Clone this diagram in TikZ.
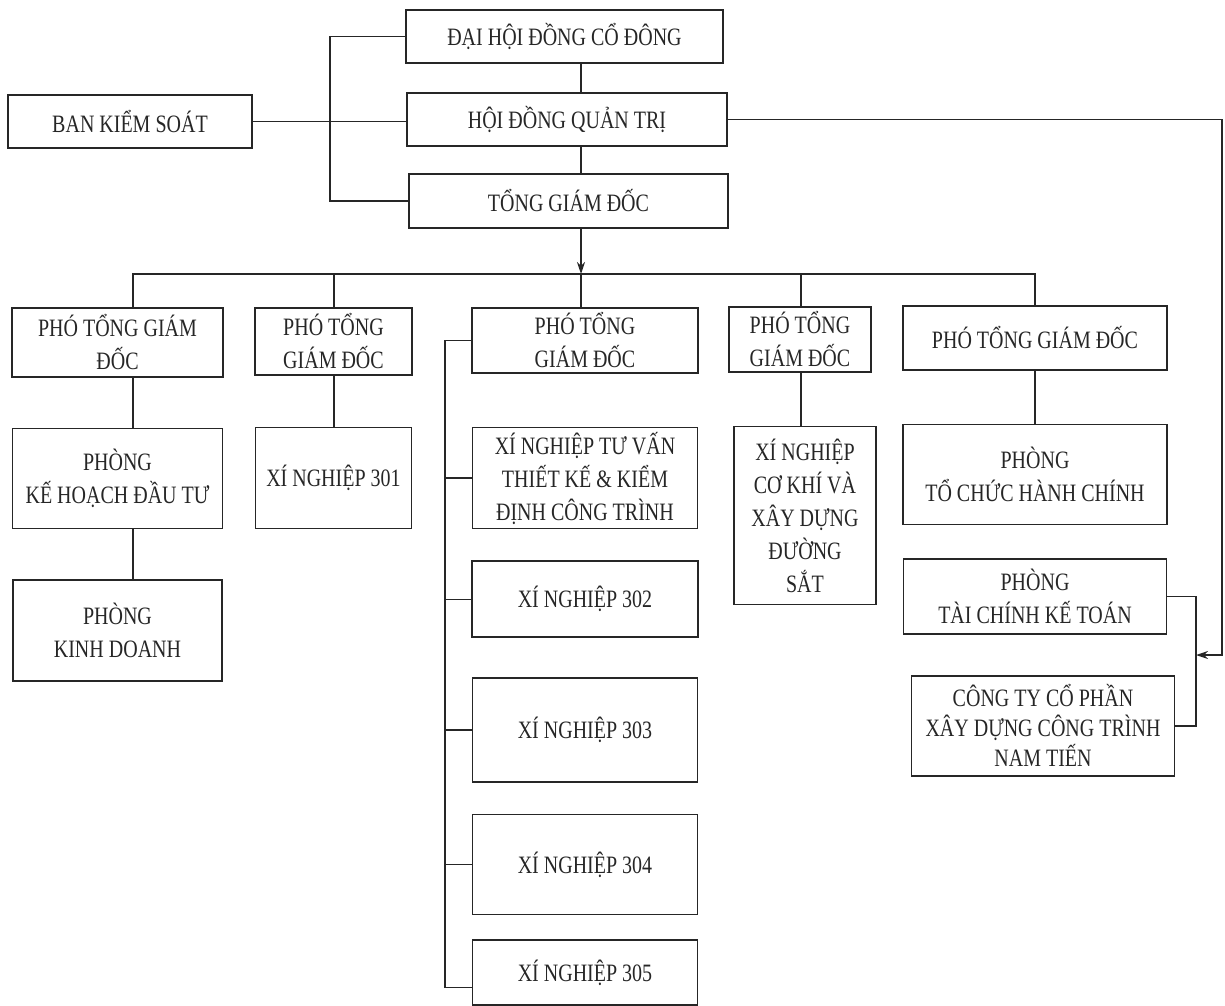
\documentclass[tikz,border=0pt]{standalone}
\usepackage{fontspec}
\setmainfont{Liberation Serif}[FakeStretch=0.8]
\usepackage{tikz}
\usetikzlibrary{positioning, arrows.meta}

\tikzset{
	box/.style={draw=black!85, line width=1.6pt, align=center, inner sep=2pt, text=black!85, font=\fontsize{25}{33}\selectfont},
	link/.style={draw=black!85, line width=1.4pt},
	tip/.style={-{Stealth[length=12pt, width=8pt]}},
}

\begin{document}
\begin{tikzpicture}[x=1pt, y=-1pt]
	\useasboundingbox (0,0) rectangle (1225,1005);

	% top of the company
	\node[box, minimum width=317pt, minimum height=53pt] (dhd) at (564.5,36.5) {ĐẠI HỘI ĐỒNG CỔ ĐÔNG};
	\node[box, minimum width=320pt, minimum height=53pt] (hdqt) at (567,119.5) {HỘI ĐỒNG QUẢN TRỊ};
	\node[box, minimum width=319pt, minimum height=54pt] (tgd) at (568.5,201) {TỔNG GIÁM ĐỐC};
	\node[box, minimum width=244pt, minimum height=53pt] (bks) at (130,121.5) {BAN KIỂM SOÁT};

	% deputies
	\node[box, minimum width=211pt, minimum height=69pt] (pg1) at (117.5,342.5) {PHÓ TỔNG GIÁM\\ĐỐC};
	\node[box, minimum width=157pt, minimum height=67pt] (pg2) at (333.5,341.5) {PHÓ TỔNG\\GIÁM ĐỐC};
	\node[box, minimum width=226pt, minimum height=65pt] (pg3) at (585,340.5) {PHÓ TỔNG\\GIÁM ĐỐC};
	\node[box, minimum width=142pt, minimum height=65pt] (pg4) at (800,339.5) {PHÓ TỔNG\\GIÁM ĐỐC};
	\node[box, minimum width=264pt, minimum height=64pt] (pg5) at (1035,338) {PHÓ TỔNG GIÁM ĐỐC};

	% units
	\node[box, minimum width=210pt, minimum height=100pt, below=50pt of pg1] (pkh) {PHÒNG\\KẾ HOẠCH ĐẦU TƯ};
	\node[box, minimum width=209pt, minimum height=101pt, below=50pt of pkh] (pkd) {PHÒNG\\KINH DOANH};
	\node[box, minimum width=156pt, minimum height=101pt, below=51pt of pg2] (xn301) {XÍ NGHIỆP 301};
	\node[box, minimum width=225pt, minimum height=101pt, below=53pt of pg3] (xntv) {XÍ NGHIỆP TƯ VẤN\\THIẾT KẾ \& KIỂM\\ĐỊNH CÔNG TRÌNH};
	\node[box, minimum width=226pt, minimum height=76pt, below=31pt of xntv] (xn302) {XÍ NGHIỆP 302};
	\node[box, minimum width=225pt, minimum height=104pt, below=39pt of xn302] (xn303) {XÍ NGHIỆP 303};
	\node[box, minimum width=225pt, minimum height=100pt, below=31pt of xn303] (xn304) {XÍ NGHIỆP 304};
	\node[box, minimum width=225pt, minimum height=65pt, below=24pt of xn304] (xn305) {XÍ NGHIỆP 305};
	\node[box, minimum width=142pt, minimum height=178pt, below=53pt of pg4, xshift=5pt] (xnck) {XÍ NGHIỆP\\CƠ KHÍ VÀ\\XÂY DỰNG\\ĐƯỜNG\\SẮT};
	\node[box, minimum width=264pt, minimum height=100pt, below=53pt of pg5] (ptc) {PHÒNG\\TỔ CHỨC HÀNH CHÍNH};
	\node[box, minimum width=263pt, minimum height=75pt, below=33pt of ptc] (ptk) {PHÒNG\\TÀI CHÍNH KẾ TOÁN};
	\node[box, minimum width=263pt, minimum height=100pt, below=40pt of ptk, xshift=8pt, font=\fontsize{25}{30}\selectfont] (ctcp) {CÔNG TY CỔ PHẦN\\XÂY DỰNG CÔNG TRÌNH\\NAM TIẾN};

	\coordinate (bus) at (0,274);
	\coordinate (spine) at (581,0);
	\coordinate (lb) at (330,0);
	\coordinate (rb) at (1222,0);
	\coordinate (kb) at (1196,0);
	\coordinate (cb) at (445,0);
	\coordinate (c1) at (133,0);
	\coordinate (c2) at (334,0);
	\coordinate (c4) at (801,0);
	\coordinate (rarr) at (1196,655);
	\coordinate (p305) at ([yshift=-15pt]xn305.west);

	\draw[link] (dhd.south -| spine) -- (hdqt.north -| spine);
	\draw[link] (hdqt.south -| spine) -- (tgd.north -| spine);
	\draw[link, tip] (tgd.south -| spine) -- (bus -| spine);
	\draw[link] (dhd.west) -| (lb |- tgd.west) -- (tgd.west);
	\draw[link] (bks.east) -- (bks.east -| hdqt.west);
	\draw[link, tip] (hdqt.east) -| (rb |- rarr) -- (rarr);

	\draw[link] (pg1.north -| c1) |- (bus -| pg5.north) -- (pg5.north);
	\draw[link] (bus -| c2) -- (pg2.north -| c2);
	\draw[link] (bus -| spine) -- (pg3.north -| spine);
	\draw[link] (bus -| c4) -- (pg4.north -| c4);

	\draw[link] (pg1.south -| c1) -- (pkh.north -| c1);
	\draw[link] (pkh.south -| c1) -- (pkd.north -| c1);
	\draw[link] (pg2.south -| c2) -- (xn301.north -| c2);
	\draw[link] (pg4.south -| c4) -- (xnck.north -| c4);
	\draw[link] (pg5.south) -- (ptc.north);

	\draw[link] (pg3.west) -| (cb |- p305) -- (p305);
	\foreach \n in {xntv, xn302, xn303, xn304}
		\draw[link] (\n.west) -- (\n.west -| cb);

	\draw[link] (ptk.east) -| (kb |- ctcp.east) -- (ctcp.east);
\end{tikzpicture}
\end{document}
